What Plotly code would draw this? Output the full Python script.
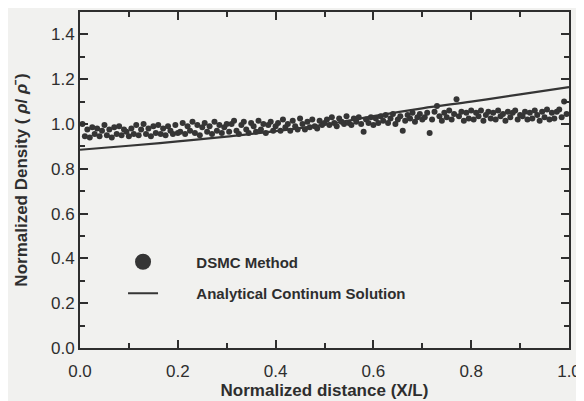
import plotly.graph_objects as go

# DSMC cell-averaged density, cells equally spaced in X/L
dsmc_y = [
    1.0, 0.945, 0.975, 0.94, 0.985, 0.955, 0.98, 0.945, 0.97, 0.995, 0.95, 0.975, 0.94, 0.985, 0.955, 0.99, 0.95, 0.975, 0.965, 0.945,
    0.98, 0.955, 0.995, 0.95, 0.975, 1.0, 0.955, 0.98, 0.945, 0.99, 0.96, 0.995, 0.955, 0.98, 0.95, 0.99, 0.97, 0.955, 0.995, 0.96,
    0.965, 1.005, 0.955, 0.99, 0.97, 1.01, 0.96, 0.995, 0.95, 0.985, 1.005, 0.965, 0.99, 0.955, 1.01, 0.97, 0.995, 0.96, 0.985, 1.0,
    0.965, 1.0, 1.015, 0.97, 0.955, 0.995, 1.01, 0.975, 0.96, 1.005, 0.99, 0.965, 1.015, 0.975, 1.0, 0.96, 0.995, 1.01, 0.97, 0.99,
    1.005, 0.97, 1.02, 0.985, 1.0, 0.97, 1.015, 0.99, 0.975, 1.025, 1.0, 0.975, 1.01, 0.985, 1.02, 0.99, 0.98, 1.015, 0.995, 1.005,
    1.02, 0.995, 1.03, 1.005, 0.99, 1.025, 1.01, 1.0, 1.035, 1.005, 0.995, 1.025, 1.01, 1.03, 1.0, 0.965, 1.02, 1.005, 1.03, 0.995,
    1.025, 1.005, 1.035, 1.015, 1.04, 1.005, 1.025, 1.045, 1.0, 1.02, 1.035, 0.97, 1.015, 1.04, 1.025, 1.05, 1.01, 1.03, 1.045, 1.02,
    1.03, 1.05, 0.96, 1.02, 1.055, 1.08, 1.035, 1.015, 1.05, 1.03, 1.06, 1.02, 1.045, 1.11, 1.035, 1.055, 1.015, 1.05, 1.025, 1.06,
    1.02, 1.05, 1.035, 1.06, 1.015, 1.04, 1.055, 1.025, 1.05, 1.02, 1.06, 1.035, 1.045, 1.015, 1.055, 1.03, 1.05, 1.06, 1.02, 1.04,
    1.035, 1.055, 1.02, 1.05, 1.025, 1.06, 1.04, 1.015, 1.055, 1.03, 1.065, 1.02, 1.05, 1.025, 1.055, 1.065, 1.03, 1.1, 1.045,
]
dsmc_x = [round(0.005 * (i + 1), 3) for i in range(len(dsmc_y))]

# Analytical continuum solution
cont_x = [0.0, 0.1, 0.2, 0.3, 0.4, 0.5, 0.6, 0.7, 0.8, 0.9, 1.0]
cont_y = [0.885, 0.903, 0.922, 0.944, 0.968, 0.997, 1.035, 1.07, 1.10, 1.132, 1.165]

x_ticks = [0.0, 0.2, 0.4, 0.6, 0.8, 1.0]
y_ticks = [0.0, 0.2, 0.4, 0.6, 0.8, 1.0, 1.2, 1.4]

ink = "#2e2e2e"
bg = "#f1f1ef"
pad = "&nbsp;" * 8

fig = go.Figure()
fig.add_trace(go.Scatter(
    x=dsmc_x, y=dsmc_y, mode="markers", showlegend=False,
    marker=dict(size=6, color="#353535"),
))
# legend entry for the DSMC markers (large symbol as in the original)
fig.add_trace(go.Scatter(
    x=[None], y=[None], mode="markers", name=pad + "DSMC Method",
    marker=dict(size=16, color="#353535"), legendgroup="a",
))
fig.add_trace(go.Scatter(
    x=cont_x, y=cont_y, mode="lines", name=pad + "Analytical Continum Solution",
    line=dict(color="#353535", width=2.2, shape="spline"), legendgroup="b",
))

axis_common = dict(
    showline=True, linecolor=ink, linewidth=2, mirror="allticks",
    ticks="inside", ticklen=8, tickwidth=2, tickcolor=ink,
    showgrid=False, zeroline=False, automargin=False,
    tickfont=dict(family="Liberation Sans, Arial, sans-serif", size=17, color=ink),
)

fig.update_layout(
    width=576, height=393,
    margin=dict(l=72, r=15, t=4, b=53),
    paper_bgcolor=bg, plot_bgcolor=bg,
    font=dict(family="Liberation Sans, Arial, sans-serif", color=ink),
    xaxis=dict(
        range=[0, 1], tickvals=x_ticks, tickformat=".1f", ticklabelstandoff=7,
        minor=dict(dtick=0.1, ticks="inside", ticklen=5, tickwidth=2, tickcolor=ink),
        title=dict(text="<b>Normalized distance (X/L)</b>", font=dict(size=17, color=ink), standoff=3),
        **axis_common,
    ),
    yaxis=dict(
        range=[0, 1.5], tickvals=y_ticks, tickformat=".1f",
        minor=dict(dtick=0.1, ticks="inside", ticklen=5, tickwidth=2, tickcolor=ink),
        title=dict(text="<b>Normalized Density ( <i>ρ</i>/ <i>ρ̄</i> )</b>", font=dict(size=17, color=ink), standoff=19),
        **axis_common,
    ),
    legend=dict(
        x=0.088, y=0.305, xanchor="left", yanchor="top",
        bgcolor="rgba(0,0,0,0)", tracegroupgap=9,
        font=dict(size=15, color=ink, weight="bold"),
    ),
)

fig.write_html("out.html")
